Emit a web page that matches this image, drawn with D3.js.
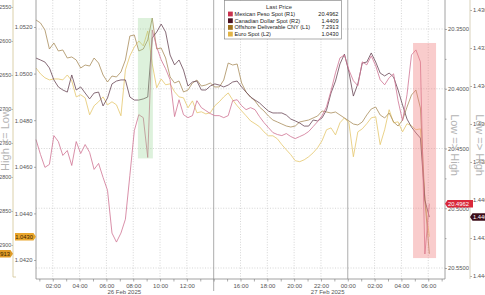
<!DOCTYPE html>
<html>
<head>
<meta charset="utf-8">
<script src="https://cdn.jsdelivr.net/npm/d3@7"></script>
<style>
body { margin: 0; background: #fff; }
svg { display: block; font-family: "Liberation Sans", Arial, sans-serif; }
.tick text { font-size: 5.8px; fill: #555; }
.tick line { stroke: #777; stroke-width: 0.6; }
</style>
</head>
<body>
<svg width="485" height="295"></svg>
<script>
// 20 minute samples, 26 Feb 2025 00:45 -> 27 Feb 2025 06:05
var start = new Date(2025, 1, 26, 0, 45), stepMin = 20;

var mxn = [20.4425, 20.4550, 20.4658, 20.4633, 20.4392, 20.4442, 20.4558, 20.4517, 20.4642, 20.4442,
  20.4542, 20.4467, 20.4533, 20.4675, 20.4625, 20.4742, 20.4850, 20.5208, 20.5283, 20.5208,
  20.5092, 20.4725, 20.4350, 20.4217, 20.4242, 20.4575, 20.3508, 20.3650, 20.3758, 20.3833,
  20.3925, 20.4233, 20.4092, 20.4217, 20.4242, 20.4225, 20.4100, 20.4158, 20.4183, 20.4208,
  20.4225, 20.4225, 20.4242, 20.4225, 20.4100, 20.4092, 20.4142, 20.4175, 20.4158, 20.4175,
  20.4233, 20.4283, 20.4325, 20.4367, 20.4383, 20.4392, 20.4375, 20.4400, 20.4417, 20.4400,
  20.4383, 20.4358, 20.4317, 20.4275, 20.4225, 20.4150, 20.4017, 20.3867, 20.3742, 20.3717,
  20.3842, 20.3933, 20.3975, 20.3775, 20.3800, 20.3725, 20.3808, 20.3925, 20.3967, 20.3908,
  20.3875, 20.4100, 20.4267, 20.4050, 20.3717, 20.3675, 20.3775, 20.5383, 20.4962];

var cad = [1.43253, 1.43263, 1.43274, 1.43305, 1.43368, 1.43405, 1.43421, 1.43432, 1.43342, 1.43421,
  1.43405, 1.43437, 1.43468, 1.43437, 1.43432, 1.43505, 1.43463, 1.43389, 1.43374, 1.43368,
  1.43368, 1.43458, 1.43474, 1.43474, 1.43468, 1.43458, 1.43147, 1.43116, 1.43074, 1.43116,
  1.43237, 1.43289, 1.43263, 1.43316, 1.43400, 1.43379, 1.43374, 1.43421, 1.43421, 1.43400,
  1.43389, 1.43395, 1.43405, 1.43395, 1.43379, 1.43374, 1.43405, 1.43432, 1.43458, 1.43474,
  1.43489, 1.43511, 1.43532, 1.43542, 1.43542, 1.43542, 1.43553, 1.43574, 1.43584, 1.43595,
  1.43611, 1.43611, 1.43579, 1.43584, 1.43568, 1.43526, 1.43437, 1.43374, 1.43284, 1.43232,
  1.43326, 1.43453, 1.43389, 1.43279, 1.43274, 1.43226, 1.43274, 1.43332, 1.43347, 1.43332,
  1.43353, 1.43421, 1.43500, 1.43574, 1.43616, 1.43647, 1.43674, 1.44000, 1.4409];

var cny = [7.25691, 7.25735, 7.25838, 7.26118, 7.26029, 7.26147, 7.26132, 7.26250, 7.26235, 7.26279,
  7.26397, 7.26353, 7.26368, 7.26250, 7.26324, 7.26500, 7.26603, 7.26515, 7.26529, 7.26456,
  7.26279, 7.25926, 7.25912, 7.26147, 7.26118, 7.25985, 7.25662, 7.26118, 7.26103, 7.26250,
  7.26529, 7.26618, 7.26588, 7.26750, 7.26721, 7.26618, 7.26574, 7.26662, 7.26647, 7.26618,
  7.26676, 7.26676, 7.26574, 7.26324, 7.26353, 7.26338, 7.26618, 7.26750, 7.26824, 7.26882,
  7.26971, 7.27029, 7.27103, 7.27162, 7.27191, 7.27221, 7.27250, 7.27265, 7.27250, 7.27191,
  7.27176, 7.27162, 7.27132, 7.27103, 7.27029, 7.27044, 7.27059, 7.27044, 7.27088, 7.27132,
  7.27176, 7.27221, 7.27235, 7.27191, 7.27088, 7.27000, 7.26971, 7.27088, 7.27132, 7.27059,
  7.27191, 7.27250, 7.27162, 7.26971, 7.26794, 7.26721, 7.26985, 7.28338, 7.2913];

var eur = [1.05024, 1.04999, 1.04982, 1.04973, 1.04977, 1.04977, 1.04973, 1.04994, 1.04969, 1.04900,
  1.04909, 1.04896, 1.04823, 1.04862, 1.04879, 1.04900, 1.04866, 1.04879, 1.04866, 1.04819,
  1.05016, 1.05076, 1.05114, 1.05140, 1.05119, 1.05183, 1.05042, 1.04939, 1.04977, 1.04952,
  1.04956, 1.04922, 1.04900, 1.04896, 1.04853, 1.04883, 1.04832, 1.04836, 1.04827, 1.04832,
  1.04862, 1.04879, 1.04900, 1.04917, 1.04887, 1.04862, 1.04840, 1.04819, 1.04797, 1.04785,
  1.04772, 1.04750, 1.04733, 1.04733, 1.04720, 1.04695, 1.04673, 1.04652, 1.04626, 1.04622,
  1.04630, 1.04643, 1.04660, 1.04682, 1.04712, 1.04759, 1.04767, 1.04737, 1.04789, 1.04810,
  1.04789, 1.04643, 1.04750, 1.04763, 1.04785, 1.04810, 1.04815, 1.04695, 1.04759, 1.04845,
  1.04789, 1.04793, 1.04750, 1.04785, 1.04776, 1.04759, 1.04763, 1.04459, 1.0430];

var seriesNames = ["Mexican Peso Spot  (R1)", "Canadian Dollar Spot  (R2)", "Offshore Deliverable CNY  (L1)", "Euro Spot  (L2)"];
var seriesColors = ["#cf7393", "#684656", "#a88d5c", "#e4c76c"];
var legendColors = ["#c8324e", "#4a1222", "#a07420", "#e2b446"];
var lastLabels = ["20.4962", "1.4409", "7.2913", "1.0430"];

// axis ticks
var mxnTicks = [20.35, 20.40, 20.45, 20.50, 20.55];
var mxnMinor = [20.375, 20.425, 20.475, 20.525];
var cadTicks = [1.430, 1.432, 1.434, 1.436, 1.438, 1.440, 1.442, 1.444];
var cnyTicks = [7.255, 7.260, 7.265, 7.270, 7.275, 7.280, 7.285, 7.290];
var eurTicks = [1.052, 1.050, 1.048, 1.046, 1.044, 1.042];

// shaded boxes (time span, R1 value span)
var boxFrom = [new Date(2025, 1, 26, 8, 21), new Date(2025, 1, 27, 4, 52)];
var boxTo = [new Date(2025, 1, 26, 9, 28), new Date(2025, 1, 27, 6, 35)];
var boxTop = [20.3408, 20.3617];
var boxBottom = [20.4583, 20.5417];
var boxColors = ["#8fd18a", "#f08080"];

var dayLabels = ["26 Feb 2025", "27 Feb 2025"];
var dayLabelAt = [new Date(2025, 1, 26, 7, 20), new Date(2025, 1, 26, 22, 30)];

var times = d3.range(mxn.length).map(i => d3.timeMinute.offset(start, i * stepMin));

var svg = d3.select("svg"),
    left = 36, right = 445, bottom = 279;

var x = d3.scaleTime()
    .domain([new Date(2025, 1, 26, 0, 45), new Date(2025, 1, 27, 7, 15)])
    .range([left, right]);

var yMxn = d3.scaleLinear().domain([20.35, 20.55]).range([29, 268]);
var yCad = d3.scaleLinear().domain([1.430, 1.444]).range([10, 276]);
var yCny = d3.scaleLinear().domain([7.255, 7.290]).range([7, 245]);
var yEur = d3.scaleLinear().domain([1.052, 1.042]).range([27, 260]);
var scales = [yMxn, yCad, yCny, yEur];
var data = [mxn, cad, cny, eur];

// grid
var hours = d3.timeHour.range(new Date(2025, 1, 26, 1), new Date(2025, 1, 27, 7, 1));
var evenHours = hours.filter(d => d.getHours() % 2 == 0);
var sessionBreaks = evenHours.filter(d => d.getHours() == 14 || d.getHours() == 0);

svg.append("g").selectAll("line").data(evenHours.filter(d => sessionBreaks.indexOf(d) < 0))
  .enter().append("line")
    .attr("x1", d => x(d)).attr("x2", d => x(d))
    .attr("y1", 0).attr("y2", bottom)
    .attr("stroke", "#c4c4c4").attr("stroke-width", 0.7).attr("stroke-dasharray", "1,1.6");

svg.append("g").selectAll("line").data(mxnTicks)
  .enter().append("line")
    .attr("x1", left).attr("x2", right)
    .attr("y1", d => yMxn(d)).attr("y2", d => yMxn(d))
    .attr("stroke", "#c4c4c4").attr("stroke-width", 0.7).attr("stroke-dasharray", "1,1.6");

svg.append("g").selectAll("line").data(sessionBreaks)
  .enter().append("line")
    .attr("x1", d => x(d)).attr("x2", d => x(d))
    .attr("y1", 0).attr("y2", d => d.getHours() == 14 ? 291 : bottom)
    .attr("stroke", "#8a8a8a").attr("stroke-width", 0.7);

// series
var order = [3, 2, 1, 0];
order.forEach(function(k) {
  var line = d3.line()
      .x((d, i) => x(times[i]))
      .y(d => scales[k](d));
  svg.append("path")
      .datum(data[k])
      .attr("fill", "none")
      .attr("stroke", seriesColors[k])
      .attr("stroke-width", 0.8)
      .attr("stroke-linejoin", "round")
      .attr("d", line);
});

// shaded boxes on top
svg.append("g").selectAll("rect").data(boxFrom)
  .enter().append("rect")
    .attr("x", (d, i) => x(d))
    .attr("width", (d, i) => x(boxTo[i]) - x(d))
    .attr("y", (d, i) => yMxn(boxTop[i]))
    .attr("height", (d, i) => yMxn(boxBottom[i]) - yMxn(boxTop[i]))
    .attr("fill", (d, i) => boxColors[i])
    .attr("fill-opacity", (d, i) => i == 0 ? 0.3 : 0.4);

// frame
svg.append("path")
    .attr("d", "M" + left + ",0V" + bottom + "H" + right + "V0")
    .attr("fill", "none").attr("stroke", "#8c8c8c").attr("stroke-width", 0.8);

// x axis
var xAxis = svg.append("g")
    .attr("transform", "translate(0," + bottom + ")")
    .call(d3.axisBottom(x).tickValues(hours).tickSize(2.5)
      .tickFormat(d => (d.getHours() % 2 == 0 && d.getHours() != 14) ? d3.timeFormat("%H:%M")(d) : ""));
xAxis.select(".domain").remove();
xAxis.selectAll(".tick text").attr("dy", "0.55em").style("font-size", "6px");

svg.append("g").selectAll("text").data(dayLabels)
  .enter().append("text")
    .attr("x", (d, i) => x(dayLabelAt[i]))
    .attr("y", 294)
    .attr("text-anchor", "middle")
    .style("font-size", "6px").style("fill", "#555")
    .text(d => d);

// left axes
var cnyAxis = svg.append("g")
    .attr("transform", "translate(13,0)")
    .call(d3.axisLeft(yCny).tickValues(cnyTicks).tickSize(1.5).tickPadding(0.3).tickFormat(d3.format(".4f")));
cnyAxis.select(".domain").remove();
cnyAxis.selectAll(".tick text").style("font-size", "5.4px");
svg.append("path").attr("d", "M13,0V277H16").attr("fill", "none")
    .attr("stroke", "#d2c494").attr("stroke-width", 0.8);

var eurAxis = svg.append("g")
    .attr("transform", "translate(" + left + ",0)")
    .call(d3.axisLeft(yEur).tickValues(eurTicks).tickSize(2).tickPadding(1.5).tickFormat(d3.format(".4f")));
eurAxis.select(".domain").remove();

// right axes
var mxnAxis = svg.append("g")
    .attr("transform", "translate(" + right + ",0)")
    .call(d3.axisRight(yMxn).tickValues(mxnTicks).tickSize(2).tickPadding(1).tickFormat(d3.format(".4f")));
mxnAxis.select(".domain").remove();
svg.append("g")
    .attr("transform", "translate(" + right + ",0)")
    .call(d3.axisRight(yMxn).tickValues(mxnMinor).tickSize(1.5).tickFormat(""))
    .select(".domain").remove();

var cadAxis = svg.append("g")
    .attr("transform", "translate(470,0)")
    .call(d3.axisRight(yCad).tickValues(cadTicks).tickSize(2).tickPadding(1).tickFormat(d3.format(".4f")));
cadAxis.select(".domain").remove();
svg.append("line").attr("x1", 470).attr("x2", 470).attr("y1", 0).attr("y2", bottom)
    .attr("stroke", "#cfc6aa").attr("stroke-width", 0.8);

// Low/High captions
svg.append("text")
    .attr("transform", "translate(9,140) rotate(-90)")
    .attr("text-anchor", "middle")
    .style("font-size", "11px").style("fill", "#b4b4b4")
    .text("High <= Low");
[455, 480].forEach(function(cx) {
  svg.append("text")
      .attr("transform", "translate(" + (cx - 4) + ",145) rotate(90)")
      .attr("text-anchor", "middle")
      .style("font-size", "11px").style("fill", "#b4b4b4")
      .text("Low => High");
});

// last value tags
function tag(xEdge, yc, w, side, fill, txtColor, label) {
  var h = 7.5, p = 2.5, pts;
  if (side == "right") {
    pts = [[xEdge, yc], [xEdge + p, yc - h / 2], [xEdge + w, yc - h / 2], [xEdge + w, yc + h / 2], [xEdge + p, yc + h / 2]];
  } else {
    pts = [[xEdge, yc], [xEdge - p, yc - h / 2], [xEdge - w, yc - h / 2], [xEdge - w, yc + h / 2], [xEdge - p, yc + h / 2]];
  }
  svg.append("path").attr("d", "M" + pts.join("L") + "Z").attr("fill", fill);
  svg.append("text")
      .attr("x", side == "right" ? xEdge + p + 0.5 : xEdge - p - 0.5)
      .attr("y", yc + 2)
      .attr("text-anchor", side == "right" ? "start" : "end")
      .style("font-size", "5.8px").style("fill", txtColor)
      .text(label);
}
tag(right, yMxn(mxn[mxn.length - 1]), 28, "right", "#d9283a", "#fff", lastLabels[0]);
tag(470, yCad(cad[cad.length - 1]), 20, "right", "#3c0c18", "#fff", lastLabels[1]);
tag(left, yEur(eur[eur.length - 1]), 21, "left", "#eaa62c", "#3a2400", lastLabels[3]);
tag(13, yCny(cny[cny.length - 1]), 26, "left", "#df9a26", "#3a2400", lastLabels[2]);

// legend
var lg = svg.append("g");
lg.append("rect").attr("x", 224.5).attr("y", 0.5).attr("width", 117).attr("height", 38.5)
    .attr("fill", "#fff").attr("stroke", "#8a8a8a").attr("stroke-width", 0.7);
lg.append("text").attr("x", 279).attr("y", 9).attr("text-anchor", "middle")
    .style("font-size", "5.8px").style("fill", "#333").text("Last Price");
var rows = lg.selectAll("g.row").data(seriesNames).enter().append("g")
    .attr("class", "row")
    .attr("transform", (d, i) => "translate(0," + (14 + i * 6.7) + ")");
rows.append("rect").attr("x", 228).attr("y", -2.4).attr("width", 4.8).attr("height", 4.8)
    .attr("fill", (d, i) => legendColors[i]);
rows.append("text").attr("x", 234.5).attr("y", 2)
    .style("font-size", "5.6px").style("fill", "#222").text(d => d);
rows.append("text").attr("x", 338.5).attr("y", 2).attr("text-anchor", "end")
    .style("font-size", "5.6px").style("fill", "#222").text((d, i) => lastLabels[i]);
</script>
</body>
</html>
